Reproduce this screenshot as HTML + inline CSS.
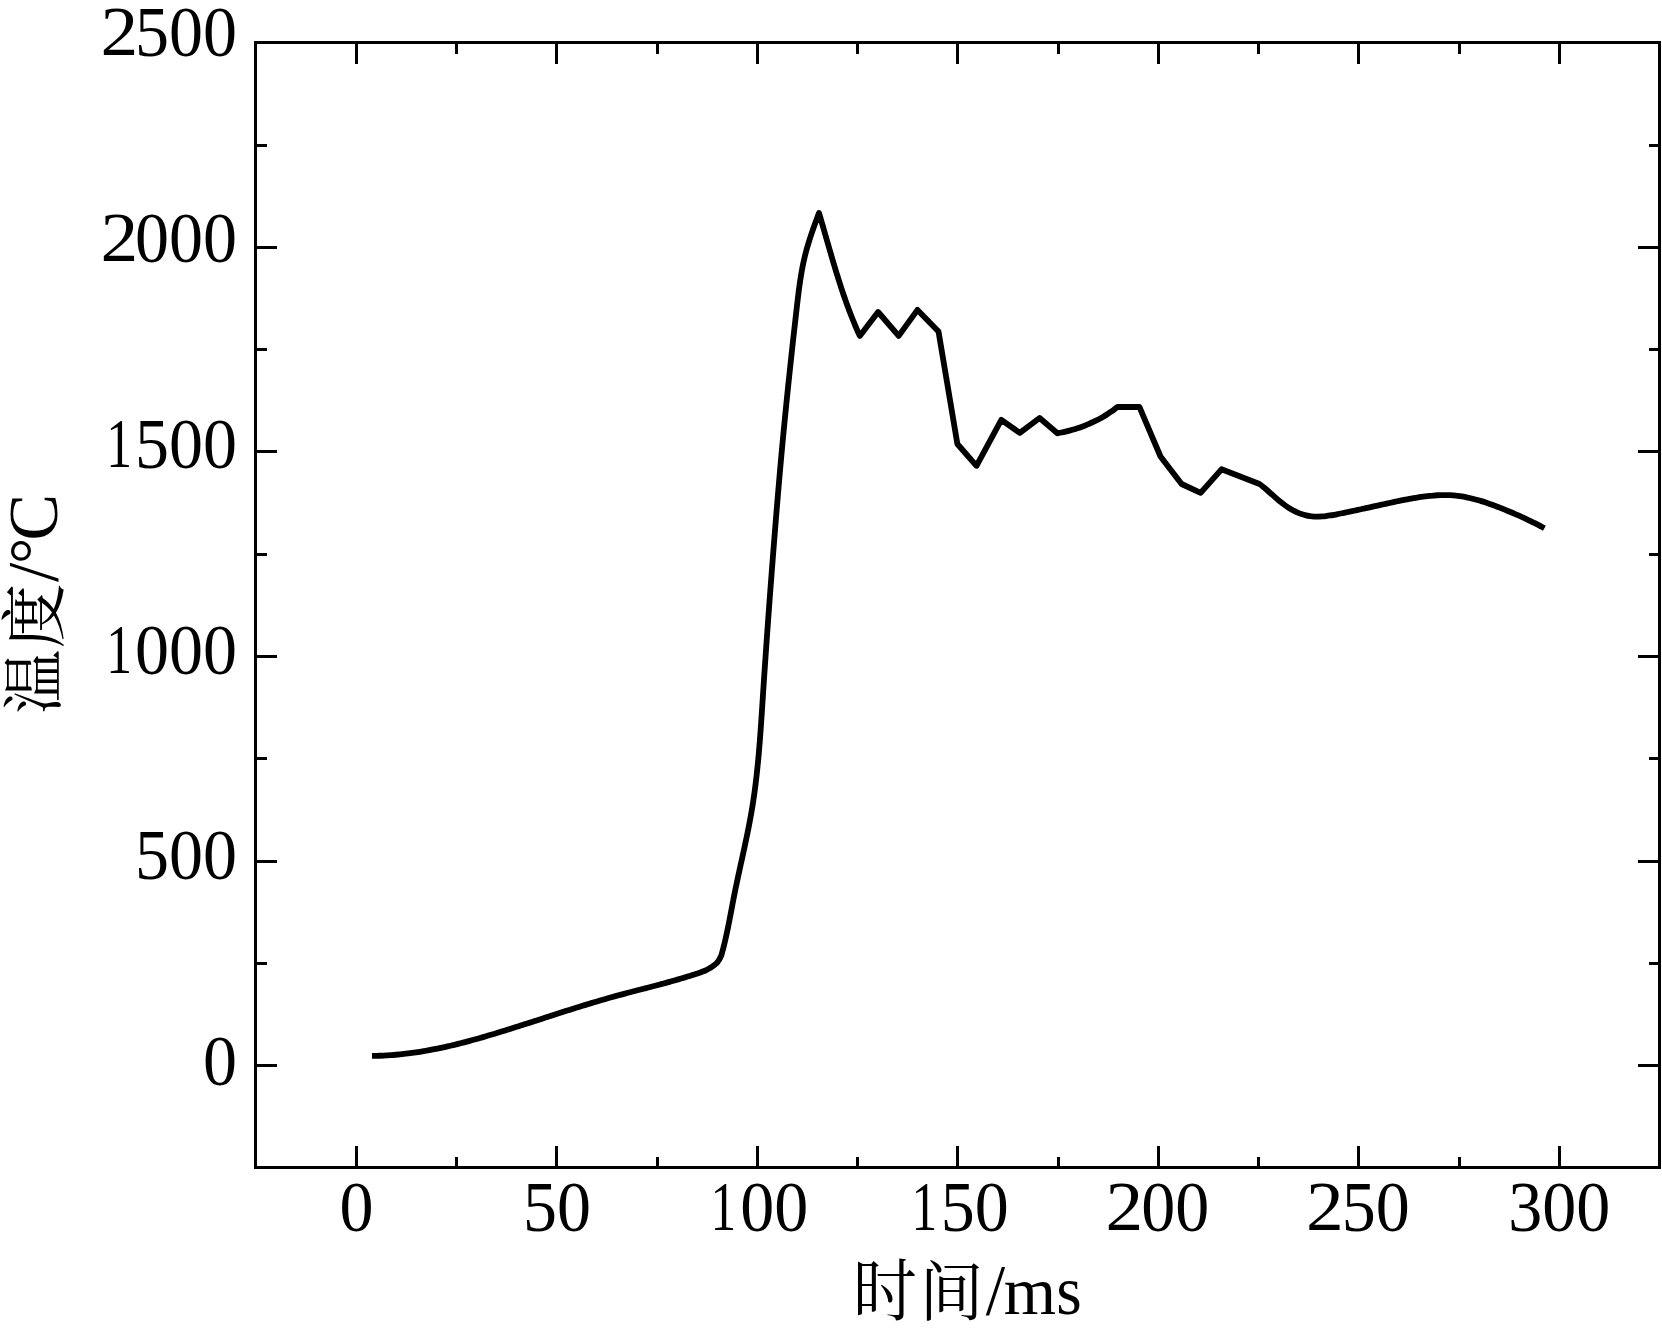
<!DOCTYPE html>
<html><head><meta charset="utf-8"><style>
html,body{margin:0;padding:0;background:#fff;overflow:hidden}
svg{display:block}
text{font-family:"Liberation Serif",serif;font-size:68px;fill:#000}
text.t{font-family:"Liberation Serif","Noto Serif CJK SC",serif;font-weight:400}
</style></head><body>
<svg width="1662" height="1335" viewBox="0 0 1662 1335">
<rect width="1662" height="1335" fill="#fff"/>
<rect x="255.5" y="42.5" width="1404.0" height="1125.0" fill="none" stroke="#000" stroke-width="3"/>
<path d="M356.5 1167.5V1146.0M356.5 42.5V64.0M456.5 1167.5V1157.0M456.5 42.5V54.0M556.5 1167.5V1146.0M556.5 42.5V64.0M657.5 1167.5V1157.0M657.5 42.5V54.0M757.5 1167.5V1146.0M757.5 42.5V64.0M857.5 1167.5V1157.0M857.5 42.5V54.0M957.5 1167.5V1146.0M957.5 42.5V64.0M1058.5 1167.5V1157.0M1058.5 42.5V54.0M1158.5 1167.5V1146.0M1158.5 42.5V64.0M1258.5 1167.5V1157.0M1258.5 42.5V54.0M1358.5 1167.5V1146.0M1358.5 42.5V64.0M1459.5 1167.5V1157.0M1459.5 42.5V54.0M1559.5 1167.5V1146.0M1559.5 42.5V64.0M255.5 1065.5H277.0M1659.5 1065.5H1638.0M255.5 963.5H267.0M1659.5 963.5H1649.0M255.5 861.5H277.0M1659.5 861.5H1638.0M255.5 758.5H267.0M1659.5 758.5H1649.0M255.5 656.5H277.0M1659.5 656.5H1638.0M255.5 554.5H267.0M1659.5 554.5H1649.0M255.5 451.5H277.0M1659.5 451.5H1638.0M255.5 349.5H267.0M1659.5 349.5H1649.0M255.5 247.5H277.0M1659.5 247.5H1638.0M255.5 145.5H267.0M1659.5 145.5H1649.0" stroke="#000" stroke-width="3" fill="none"/>
<path d="M372.00 1055.90C372.67 1055.89 374.67 1055.88 376.01 1055.85C377.34 1055.82 378.68 1055.79 380.01 1055.74C381.35 1055.70 382.68 1055.64 384.02 1055.58C385.35 1055.51 386.69 1055.44 388.02 1055.36C389.35 1055.28 390.69 1055.19 392.02 1055.09C393.35 1054.99 394.68 1054.88 396.01 1054.76C397.34 1054.64 398.67 1054.52 400.00 1054.39C401.33 1054.25 402.66 1054.11 403.99 1053.96C405.32 1053.81 406.64 1053.65 407.97 1053.49C409.29 1053.32 410.62 1053.15 411.94 1052.96C413.27 1052.78 414.59 1052.59 415.91 1052.40C417.23 1052.20 418.55 1052.00 419.87 1051.79C421.19 1051.58 422.51 1051.36 423.83 1051.14C425.14 1050.91 426.46 1050.68 427.77 1050.44C429.09 1050.21 430.40 1049.96 431.71 1049.71C433.03 1049.46 434.34 1049.20 435.65 1048.94C436.96 1048.68 438.27 1048.41 439.57 1048.14C440.88 1047.86 442.19 1047.58 443.49 1047.30C444.80 1047.01 446.10 1046.72 447.40 1046.42C448.71 1046.13 450.01 1045.83 451.31 1045.52C452.61 1045.21 453.91 1044.90 455.21 1044.59C456.50 1044.27 457.80 1043.95 459.10 1043.62C460.39 1043.30 461.69 1042.97 462.98 1042.63C464.27 1042.30 465.57 1041.96 466.86 1041.62C468.15 1041.28 469.44 1040.93 470.73 1040.58C472.02 1040.23 473.31 1039.88 474.59 1039.52C475.88 1039.16 477.17 1038.80 478.45 1038.44C479.74 1038.08 481.02 1037.71 482.31 1037.34C483.59 1036.97 484.87 1036.60 486.16 1036.22C487.44 1035.84 488.72 1035.47 490.00 1035.08C491.28 1034.70 492.56 1034.32 493.84 1033.93C495.12 1033.55 496.40 1033.16 497.67 1032.77C498.95 1032.38 500.23 1031.99 501.51 1031.59C502.78 1031.20 504.06 1030.80 505.33 1030.41C506.61 1030.01 507.88 1029.61 509.16 1029.21C510.43 1028.81 511.71 1028.41 512.98 1028.00C514.26 1027.60 515.53 1027.20 516.80 1026.79C518.07 1026.39 519.35 1025.98 520.62 1025.58C521.89 1025.17 523.17 1024.76 524.44 1024.35C525.71 1023.95 526.98 1023.54 528.25 1023.13C529.53 1022.72 530.80 1022.31 532.07 1021.90C533.34 1021.49 534.61 1021.08 535.88 1020.67C537.15 1020.26 538.42 1019.85 539.70 1019.44C540.97 1019.02 542.24 1018.61 543.51 1018.20C544.78 1017.79 546.05 1017.38 547.32 1016.97C548.60 1016.56 549.87 1016.15 551.14 1015.74C552.41 1015.33 553.68 1014.92 554.95 1014.51C556.23 1014.10 557.50 1013.70 558.77 1013.29C560.04 1012.88 561.31 1012.47 562.59 1012.07C563.86 1011.66 565.13 1011.26 566.41 1010.85C567.68 1010.45 568.95 1010.04 570.23 1009.64C571.50 1009.24 572.78 1008.84 574.05 1008.44C575.33 1008.04 576.60 1007.64 577.88 1007.24C579.15 1006.85 580.43 1006.45 581.70 1006.06C582.98 1005.66 584.26 1005.27 585.54 1004.88C586.81 1004.49 588.09 1004.10 589.37 1003.71C590.65 1003.33 591.93 1002.94 593.21 1002.56C594.49 1002.17 595.77 1001.79 597.05 1001.41C598.33 1001.04 599.61 1000.66 600.89 1000.28C602.18 999.91 603.46 999.54 604.74 999.17C606.03 998.80 607.31 998.43 608.60 998.07C609.88 997.70 611.17 997.34 612.46 996.98C613.74 996.62 615.03 996.27 616.32 995.91C617.61 995.56 618.90 995.21 620.19 994.86C621.48 994.52 622.77 994.17 624.06 993.83C625.35 993.48 626.64 993.14 627.93 992.80C629.23 992.46 630.52 992.13 631.81 991.79C633.10 991.45 634.40 991.12 635.69 990.78C636.98 990.45 638.28 990.11 639.57 989.78C640.86 989.45 642.16 989.11 643.45 988.78C644.74 988.44 646.04 988.11 647.33 987.78C648.63 987.44 649.92 987.11 651.21 986.77C652.50 986.43 653.80 986.10 655.09 985.76C656.38 985.42 657.67 985.08 658.96 984.73C660.26 984.39 661.55 984.05 662.84 983.70C664.13 983.35 665.42 983.00 666.70 982.65C667.99 982.30 669.28 981.94 670.57 981.58C671.85 981.22 673.14 980.86 674.43 980.50C675.71 980.13 676.99 979.76 678.28 979.39C679.56 979.01 680.84 978.63 682.12 978.25C683.40 977.87 684.68 977.48 685.96 977.09C687.23 976.69 688.51 976.30 689.78 975.89C691.06 975.49 692.33 975.08 693.60 974.66C694.87 974.25 696.77 973.61 697.40 973.40C697.90 973.23 699.42 972.75 700.41 972.40C701.41 972.05 702.41 971.69 703.39 971.29C704.37 970.90 705.35 970.49 706.30 970.04C707.26 969.59 708.21 969.12 709.13 968.60C710.06 968.09 710.97 967.55 711.85 966.96C712.73 966.38 713.59 965.76 714.42 965.09C715.24 964.43 716.40 963.35 716.80 963.00C717.22 962.42 718.53 960.80 719.30 959.50C720.07 958.20 721.05 955.92 721.40 955.20C721.58 954.56 722.12 952.62 722.47 951.33C722.82 950.04 723.16 948.75 723.49 947.45C723.82 946.15 724.14 944.86 724.45 943.56C724.77 942.25 725.07 940.95 725.37 939.65C725.67 938.35 725.97 937.04 726.25 935.73C726.54 934.43 726.82 933.12 727.10 931.81C727.38 930.50 727.65 929.19 727.92 927.88C728.19 926.57 728.45 925.26 728.71 923.95C728.97 922.64 729.23 921.32 729.48 920.01C729.74 918.70 729.99 917.38 730.24 916.07C730.49 914.76 730.74 913.44 730.99 912.13C731.24 910.81 731.49 909.50 731.74 908.18C731.99 906.87 732.24 905.56 732.49 904.24C732.74 902.93 732.99 901.61 733.24 900.30C733.49 898.99 733.75 897.67 734.01 896.36C734.27 895.05 734.53 893.74 734.79 892.43C735.05 891.11 735.32 889.80 735.59 888.49C735.86 887.18 736.13 885.87 736.41 884.56C736.68 883.25 736.96 881.95 737.24 880.64C737.51 879.33 737.79 878.02 738.08 876.71C738.36 875.41 738.64 874.10 738.92 872.79C739.21 871.48 739.49 870.18 739.78 868.87C740.06 867.56 740.35 866.26 740.64 864.95C740.92 863.64 741.21 862.34 741.50 861.03C741.78 859.72 742.07 858.42 742.36 857.11C742.64 855.80 742.93 854.50 743.21 853.19C743.50 851.88 743.78 850.58 744.06 849.27C744.35 847.96 744.63 846.65 744.91 845.34C745.19 844.04 745.47 842.73 745.75 841.42C746.02 840.11 746.30 838.80 746.57 837.49C746.84 836.18 747.11 834.87 747.38 833.56C747.65 832.25 747.91 830.94 748.17 829.63C748.44 828.32 748.70 827.00 748.95 825.69C749.21 824.38 749.46 823.06 749.71 821.75C749.95 820.44 750.20 819.12 750.44 817.80C750.68 816.49 750.92 815.17 751.15 813.85C751.38 812.54 751.60 811.22 751.83 809.90C752.05 808.58 752.27 807.26 752.48 805.94C752.69 804.62 752.90 803.30 753.10 801.97C753.30 800.65 753.50 799.33 753.69 798.01C753.89 796.68 754.08 795.36 754.26 794.03C754.45 792.71 754.63 791.38 754.80 790.06C754.98 788.73 755.15 787.40 755.32 786.08C755.49 784.75 755.66 783.42 755.82 782.10C755.98 780.77 756.13 779.44 756.29 778.11C756.44 776.78 756.59 775.45 756.74 774.12C756.89 772.79 757.03 771.46 757.17 770.13C757.31 768.80 757.45 767.47 757.58 766.14C757.72 764.81 757.85 763.48 757.98 762.15C758.11 760.82 758.23 759.48 758.36 758.15C758.48 756.82 758.60 755.49 758.72 754.16C758.84 752.82 758.95 751.49 759.06 750.16C759.18 748.82 759.29 747.49 759.40 746.16C759.51 744.82 759.62 743.49 759.72 742.16C759.83 740.82 759.93 739.49 760.03 738.16C760.13 736.82 760.23 735.49 760.33 734.16C760.43 732.82 760.53 731.49 760.62 730.15C760.72 728.82 760.81 727.48 760.91 726.15C761.00 724.82 761.09 723.48 761.18 722.15C761.28 720.81 761.37 719.48 761.46 718.14C761.55 716.81 761.63 715.47 761.72 714.14C761.81 712.80 761.90 711.47 761.99 710.13C762.07 708.80 762.16 707.46 762.25 706.13C762.33 704.79 762.42 703.46 762.51 702.12C762.59 700.79 762.68 699.46 762.77 698.12C762.85 696.79 762.94 695.45 763.03 694.12C763.11 692.78 763.20 691.45 763.29 690.11C763.38 688.78 763.46 687.44 763.55 686.11C763.64 684.77 763.73 683.44 763.82 682.10C763.91 680.77 764.00 679.43 764.08 678.10C764.17 676.76 764.26 675.43 764.35 674.09C764.44 672.76 764.53 671.43 764.62 670.09C764.71 668.76 764.81 667.42 764.90 666.09C764.99 664.75 765.08 663.42 765.17 662.08C765.26 660.75 765.35 659.41 765.45 658.08C765.54 656.75 765.63 655.41 765.72 654.08C765.82 652.74 765.91 651.41 766.00 650.07C766.10 648.74 766.19 647.40 766.28 646.07C766.38 644.74 766.47 643.40 766.56 642.07C766.66 640.73 766.75 639.40 766.85 638.06C766.94 636.73 767.04 635.39 767.13 634.06C767.23 632.73 767.32 631.39 767.42 630.06C767.51 628.72 767.61 627.39 767.71 626.06C767.80 624.72 767.90 623.39 768.00 622.05C768.09 620.72 768.19 619.38 768.29 618.05C768.38 616.72 768.48 615.38 768.58 614.05C768.68 612.71 768.77 611.38 768.87 610.05C768.97 608.71 769.07 607.38 769.17 606.04C769.27 604.71 769.37 603.38 769.46 602.04C769.56 600.71 769.66 599.37 769.76 598.04C769.86 596.71 769.96 595.37 770.06 594.04C770.16 592.70 770.26 591.37 770.36 590.04C770.46 588.70 770.56 587.37 770.66 586.03C770.76 584.70 770.87 583.37 770.97 582.03C771.07 580.70 771.17 579.36 771.27 578.03C771.37 576.70 771.48 575.36 771.58 574.03C771.68 572.70 771.78 571.36 771.88 570.03C771.99 568.69 772.09 567.36 772.19 566.03C772.30 564.69 772.40 563.36 772.50 562.03C772.61 560.69 772.71 559.36 772.81 558.02C772.92 556.69 773.02 555.36 773.12 554.02C773.23 552.69 773.33 551.36 773.44 550.02C773.54 548.69 773.65 547.36 773.75 546.02C773.86 544.69 773.96 543.36 774.07 542.02C774.17 540.69 774.28 539.35 774.39 538.02C774.49 536.69 774.60 535.35 774.70 534.02C774.81 532.69 774.92 531.35 775.03 530.02C775.13 528.69 775.24 527.35 775.35 526.02C775.46 524.69 775.56 523.35 775.67 522.02C775.78 520.69 775.89 519.35 776.00 518.02C776.11 516.69 776.22 515.35 776.33 514.02C776.43 512.69 776.54 511.36 776.65 510.02C776.77 508.69 776.88 507.36 776.99 506.02C777.10 504.69 777.21 503.36 777.32 502.02C777.43 500.69 777.54 499.36 777.66 498.02C777.77 496.69 777.88 495.36 777.99 494.03C778.11 492.69 778.22 491.36 778.34 490.03C778.45 488.69 778.56 487.36 778.68 486.03C778.79 484.70 778.91 483.36 779.02 482.03C779.14 480.70 779.25 479.37 779.37 478.03C779.49 476.70 779.60 475.37 779.72 474.04C779.84 472.70 779.96 471.37 780.07 470.04C780.19 468.71 780.31 467.37 780.43 466.04C780.55 464.71 780.67 463.38 780.79 462.04C780.91 460.71 781.03 459.38 781.15 458.05C781.27 456.71 781.39 455.38 781.51 454.05C781.64 452.72 781.76 451.39 781.88 450.05C782.00 448.72 782.13 447.39 782.25 446.06C782.37 444.73 782.50 443.39 782.62 442.06C782.75 440.73 782.87 439.40 783.00 438.07C783.13 436.74 783.25 435.40 783.38 434.07C783.51 432.74 783.63 431.41 783.76 430.08C783.89 428.75 784.02 427.41 784.15 426.08C784.28 424.75 784.41 423.42 784.54 422.09C784.67 420.76 784.80 419.43 784.93 418.09C785.06 416.76 785.19 415.43 785.32 414.10C785.45 412.77 785.59 411.44 785.72 410.11C785.85 408.78 785.99 407.45 786.12 406.11C786.25 404.78 786.39 403.45 786.52 402.12C786.66 400.79 786.79 399.46 786.93 398.13C787.06 396.80 787.20 395.47 787.34 394.14C787.47 392.81 787.61 391.48 787.75 390.15C787.89 388.82 788.02 387.48 788.16 386.15C788.30 384.82 788.44 383.49 788.58 382.16C788.72 380.83 788.86 379.50 789.00 378.17C789.14 376.84 789.28 375.51 789.42 374.18C789.56 372.85 789.70 371.52 789.84 370.19C789.98 368.86 790.13 367.53 790.27 366.20C790.41 364.87 790.55 363.54 790.70 362.21C790.84 360.88 790.98 359.55 791.13 358.22C791.27 356.89 791.42 355.56 791.56 354.23C791.71 352.90 791.85 351.57 792.00 350.24C792.14 348.91 792.29 347.58 792.43 346.25C792.58 344.92 792.73 343.59 792.87 342.26C793.02 340.93 793.17 339.60 793.31 338.27C793.46 336.94 793.61 335.62 793.76 334.29C793.91 332.96 794.06 331.63 794.20 330.30C794.35 328.97 794.50 327.64 794.65 326.31C794.80 324.98 794.95 323.65 795.10 322.32C795.25 320.99 795.40 319.66 795.55 318.33C795.70 317.00 795.85 315.68 796.01 314.35C796.16 313.02 796.31 311.69 796.46 310.36C796.61 309.03 796.76 307.70 796.92 306.37C797.07 305.04 797.22 303.71 797.38 302.39C797.53 301.06 797.69 299.73 797.85 298.40C798.01 297.07 798.17 295.74 798.33 294.42C798.50 293.09 798.66 291.76 798.84 290.44C799.01 289.11 799.18 287.78 799.37 286.46C799.55 285.13 799.73 283.81 799.93 282.48C800.12 281.16 800.32 279.84 800.53 278.52C800.73 277.19 800.95 275.87 801.17 274.55C801.39 273.24 801.62 271.92 801.86 270.60C802.10 269.29 802.34 267.97 802.60 266.66C802.86 265.34 803.12 264.03 803.40 262.73C803.68 261.42 803.96 260.11 804.26 258.81C804.56 257.50 804.88 256.20 805.20 254.90C805.52 253.61 805.86 252.31 806.21 251.02C806.55 249.73 806.91 248.44 807.28 247.15C807.65 245.87 808.03 244.59 808.42 243.31C808.81 242.03 809.21 240.75 809.62 239.48C810.03 238.20 810.44 236.93 810.86 235.66C811.29 234.39 811.72 233.12 812.15 231.86C812.59 230.59 813.03 229.33 813.48 228.07C813.92 226.81 814.37 225.55 814.83 224.29C815.28 223.04 815.74 221.78 816.20 220.52C816.67 219.27 817.13 218.01 817.60 216.76C818.06 215.51 818.77 213.63 819.00 213.00C819.19 213.65 819.77 215.59 820.15 216.88C820.53 218.18 820.91 219.48 821.29 220.77C821.67 222.07 822.04 223.36 822.42 224.66C822.80 225.96 823.17 227.26 823.54 228.55C823.92 229.85 824.29 231.15 824.67 232.45C825.04 233.74 825.41 235.04 825.78 236.34C826.16 237.64 826.53 238.93 826.90 240.23C827.27 241.53 827.65 242.83 828.02 244.13C828.39 245.42 828.77 246.72 829.14 248.02C829.52 249.32 829.89 250.61 830.27 251.91C830.64 253.21 831.02 254.50 831.40 255.80C831.78 257.09 832.16 258.39 832.54 259.69C832.92 260.98 833.31 262.28 833.69 263.57C834.08 264.86 834.46 266.16 834.85 267.45C835.24 268.74 835.64 270.03 836.03 271.33C836.42 272.62 836.82 273.91 837.22 275.20C837.62 276.49 838.02 277.78 838.43 279.06C838.84 280.35 839.25 281.64 839.66 282.92C840.07 284.21 840.49 285.49 840.91 286.78C841.33 288.06 841.75 289.34 842.18 290.62C842.61 291.90 843.04 293.18 843.47 294.46C843.91 295.74 844.35 297.02 844.79 298.29C845.24 299.57 845.69 300.84 846.14 302.11C846.60 303.38 847.06 304.65 847.52 305.92C847.99 307.19 848.46 308.45 848.93 309.72C849.41 310.98 849.89 312.24 850.37 313.50C850.86 314.76 851.35 316.02 851.85 317.27C852.35 318.53 852.85 319.78 853.36 321.03C853.87 322.28 854.39 323.53 854.91 324.78C855.43 326.02 855.96 327.26 856.50 328.50C857.04 329.74 857.58 330.98 858.13 332.21C858.68 333.44 859.52 335.29 859.80 335.90L878.10 312.00L898.70 335.90L917.50 309.90L938.50 331.50L957.40 444.00L976.50 465.80L1001.30 419.80L1019.80 432.90L1039.60 418.00L1057.40 433.30C1058.08 433.17 1060.11 432.79 1061.46 432.51C1062.80 432.22 1064.15 431.92 1065.49 431.60C1066.83 431.28 1068.16 430.95 1069.49 430.59C1070.82 430.24 1072.15 429.87 1073.47 429.47C1074.79 429.08 1076.11 428.67 1077.42 428.25C1078.73 427.82 1080.03 427.37 1081.33 426.91C1082.62 426.44 1083.91 425.96 1085.19 425.46C1086.48 424.96 1087.75 424.44 1089.02 423.89C1090.29 423.35 1091.54 422.79 1092.79 422.21C1094.04 421.63 1095.28 421.04 1096.51 420.42C1097.74 419.80 1098.96 419.16 1100.17 418.50C1101.38 417.84 1102.58 417.16 1103.76 416.45C1104.95 415.75 1106.12 415.03 1107.28 414.29C1108.44 413.54 1109.59 412.78 1110.71 411.99C1111.84 411.20 1112.96 410.39 1114.06 409.56C1115.16 408.73 1116.76 407.43 1117.30 407.00L1139.40 406.90L1160.50 456.50L1181.60 484.00L1200.60 492.90L1221.50 469.30L1259.50 484.00C1260.03 484.41 1261.65 485.62 1262.71 486.47C1263.76 487.31 1264.79 488.18 1265.82 489.05C1266.85 489.93 1267.86 490.82 1268.87 491.72C1269.88 492.61 1270.88 493.52 1271.89 494.42C1272.89 495.32 1273.89 496.22 1274.91 497.11C1275.92 498.00 1276.93 498.89 1277.96 499.76C1279.00 500.63 1280.04 501.49 1281.10 502.33C1282.15 503.16 1283.23 503.98 1284.32 504.77C1285.41 505.57 1286.52 506.34 1287.65 507.08C1288.77 507.82 1289.92 508.54 1291.08 509.22C1292.24 509.91 1293.42 510.56 1294.62 511.18C1295.82 511.79 1297.04 512.38 1298.28 512.91C1299.52 513.44 1300.78 513.94 1302.06 514.36C1303.34 514.79 1304.64 515.15 1305.95 515.45C1307.27 515.75 1308.60 515.98 1309.94 516.16C1311.27 516.35 1312.62 516.46 1313.97 516.54C1315.31 516.61 1316.66 516.63 1318.01 516.61C1319.36 516.59 1320.71 516.52 1322.06 516.42C1323.40 516.32 1324.74 516.18 1326.08 516.02C1327.42 515.86 1328.76 515.67 1330.09 515.46C1331.43 515.25 1332.75 515.02 1334.08 514.78C1335.41 514.54 1336.73 514.28 1338.06 514.02C1339.38 513.76 1340.70 513.49 1342.03 513.22C1343.35 512.95 1344.67 512.68 1345.99 512.41C1347.31 512.13 1348.63 511.86 1349.95 511.58C1351.27 511.30 1352.59 511.02 1353.91 510.74C1355.23 510.46 1356.55 510.17 1357.87 509.89C1359.19 509.60 1360.51 509.32 1361.83 509.03C1363.14 508.74 1364.46 508.45 1365.78 508.17C1367.10 507.88 1368.42 507.59 1369.73 507.30C1371.05 507.01 1372.37 506.72 1373.69 506.43C1375.00 506.14 1376.32 505.85 1377.64 505.56C1378.96 505.27 1380.28 504.98 1381.59 504.69C1382.91 504.40 1384.23 504.11 1385.55 503.82C1386.87 503.54 1388.18 503.25 1389.50 502.97C1390.82 502.68 1392.14 502.40 1393.46 502.12C1394.78 501.84 1396.10 501.56 1397.42 501.28C1398.74 501.00 1400.06 500.73 1401.39 500.46C1402.71 500.19 1404.03 499.92 1405.35 499.66C1406.68 499.41 1408.00 499.15 1409.33 498.90C1410.66 498.66 1411.98 498.42 1413.31 498.18C1414.64 497.95 1415.97 497.73 1417.31 497.52C1418.64 497.30 1419.97 497.10 1421.31 496.91C1422.64 496.71 1423.98 496.53 1425.32 496.36C1426.66 496.20 1428.00 496.04 1429.34 495.90C1430.68 495.76 1432.02 495.64 1433.37 495.53C1434.71 495.42 1436.06 495.33 1437.41 495.26C1438.76 495.19 1440.10 495.14 1441.45 495.11C1442.80 495.08 1444.15 495.07 1445.50 495.08C1446.85 495.09 1448.20 495.13 1449.55 495.19C1450.89 495.25 1452.24 495.34 1453.59 495.45C1454.93 495.57 1456.27 495.71 1457.61 495.87C1458.95 496.04 1460.29 496.23 1461.62 496.44C1462.95 496.66 1464.28 496.90 1465.60 497.15C1466.93 497.41 1468.25 497.69 1469.56 497.99C1470.88 498.29 1472.19 498.60 1473.50 498.94C1474.81 499.27 1476.11 499.62 1477.41 499.99C1478.70 500.36 1480.00 500.74 1481.29 501.14C1482.58 501.53 1483.86 501.94 1485.15 502.37C1486.43 502.79 1487.70 503.22 1488.98 503.67C1490.25 504.11 1491.52 504.57 1492.79 505.03C1494.06 505.50 1495.32 505.97 1496.58 506.45C1497.84 506.93 1499.10 507.42 1500.35 507.92C1501.61 508.41 1502.86 508.91 1504.11 509.42C1505.36 509.92 1506.61 510.43 1507.86 510.95C1509.11 511.46 1510.35 511.98 1511.60 512.50C1512.84 513.03 1514.08 513.55 1515.32 514.09C1516.56 514.62 1517.80 515.16 1519.03 515.70C1520.27 516.25 1521.50 516.80 1522.73 517.36C1523.95 517.92 1525.18 518.49 1526.40 519.06C1527.62 519.63 1528.84 520.21 1530.05 520.80C1531.27 521.39 1532.48 521.99 1533.68 522.60C1534.89 523.20 1536.09 523.82 1537.28 524.44C1538.48 525.07 1539.67 525.70 1540.86 526.34C1542.04 526.99 1543.81 527.97 1544.40 528.30" stroke="#000" stroke-width="5.8" fill="none" stroke-linejoin="round" stroke-linecap="butt"/>
<text><tspan x="203.00" y="1085.00" font-size="72.62" textLength="34.00" lengthAdjust="spacingAndGlyphs">0</tspan></text>
<text><tspan x="135.00" y="879.00" font-size="72.62" textLength="102.00" lengthAdjust="spacingAndGlyphs">500</tspan></text>
<text><tspan x="106.28" y="673.00" font-size="70.00" textLength="25.82" lengthAdjust="spacingAndGlyphs">1</tspan><tspan x="135.00" y="674.00" font-size="72.62" textLength="102.00" lengthAdjust="spacingAndGlyphs">000</tspan></text>
<text><tspan x="106.28" y="467.00" font-size="70.00" textLength="25.82" lengthAdjust="spacingAndGlyphs">1</tspan><tspan x="135.00" y="468.00" font-size="72.62" textLength="102.00" lengthAdjust="spacingAndGlyphs">500</tspan></text>
<text><tspan x="100.50" y="260.90" font-size="69.28" textLength="37.75" lengthAdjust="spacingAndGlyphs">2</tspan><tspan x="135.00" y="262.00" font-size="72.62" textLength="102.00" lengthAdjust="spacingAndGlyphs">000</tspan></text>
<text><tspan x="100.40" y="54.90" font-size="69.58" textLength="37.75" lengthAdjust="spacingAndGlyphs">2</tspan><tspan x="135.00" y="56.00" font-size="72.62" textLength="102.00" lengthAdjust="spacingAndGlyphs">500</tspan></text>
<text><tspan x="339.40" y="1231.00" font-size="72.62" textLength="34.00" lengthAdjust="spacingAndGlyphs">0</tspan></text>
<text><tspan x="522.88" y="1231.00" font-size="72.62" textLength="68.00" lengthAdjust="spacingAndGlyphs">50</tspan></text>
<text><tspan x="710.51" y="1230.00" font-size="69.85" textLength="25.67" lengthAdjust="spacingAndGlyphs">1</tspan><tspan x="740.35" y="1231.00" font-size="72.62" textLength="68.00" lengthAdjust="spacingAndGlyphs">00</tspan></text>
<text><tspan x="911.51" y="1230.00" font-size="69.85" textLength="25.67" lengthAdjust="spacingAndGlyphs">1</tspan><tspan x="940.82" y="1231.00" font-size="72.62" textLength="68.00" lengthAdjust="spacingAndGlyphs">50</tspan></text>
<text><tspan x="1105.40" y="1230.00" font-size="69.74" textLength="37.75" lengthAdjust="spacingAndGlyphs">2</tspan><tspan x="1141.30" y="1231.00" font-size="72.62" textLength="68.00" lengthAdjust="spacingAndGlyphs">00</tspan></text>
<text><tspan x="1305.90" y="1230.00" font-size="69.74" textLength="37.75" lengthAdjust="spacingAndGlyphs">2</tspan><tspan x="1341.78" y="1231.00" font-size="72.62" textLength="68.00" lengthAdjust="spacingAndGlyphs">50</tspan></text>
<text><tspan x="1508.25" y="1231.00" font-size="72.62" textLength="102.00" lengthAdjust="spacingAndGlyphs">300</tspan></text>
<text class="t"><tspan x="852.71" y="1314.65" font-size="67.70" textLength="64.11" lengthAdjust="spacingAndGlyphs">时</tspan><tspan x="919.45" y="1314.85" font-size="65.22" textLength="63.93" lengthAdjust="spacingAndGlyphs">间</tspan><tspan x="985.80" y="1314.18" font-size="71.64" textLength="19.42" lengthAdjust="spacingAndGlyphs">/</tspan><tspan x="1003.65" y="1314.10" font-size="68.51" textLength="52.38" lengthAdjust="spacingAndGlyphs">m</tspan><tspan x="1056.18" y="1314.41" font-size="69.17" textLength="25.53" lengthAdjust="spacingAndGlyphs">s</tspan></text>
<text class="t" transform="rotate(-90)"><tspan x="-713.91" y="56.30" font-size="61.98" textLength="64.36" lengthAdjust="spacingAndGlyphs">温</tspan><tspan x="-648.26" y="57.93" font-size="65.91" textLength="64.56" lengthAdjust="spacingAndGlyphs">度</tspan><tspan x="-582.00" y="57.38" font-size="71.94" textLength="19.32" lengthAdjust="spacingAndGlyphs">/</tspan><tspan x="-563.91" y="54.87" font-size="66.12" textLength="26.18" lengthAdjust="spacingAndGlyphs">°</tspan><tspan x="-540.82" y="57.40" font-size="70.19" textLength="46.95" lengthAdjust="spacingAndGlyphs">C</tspan></text>
</svg></body></html>
